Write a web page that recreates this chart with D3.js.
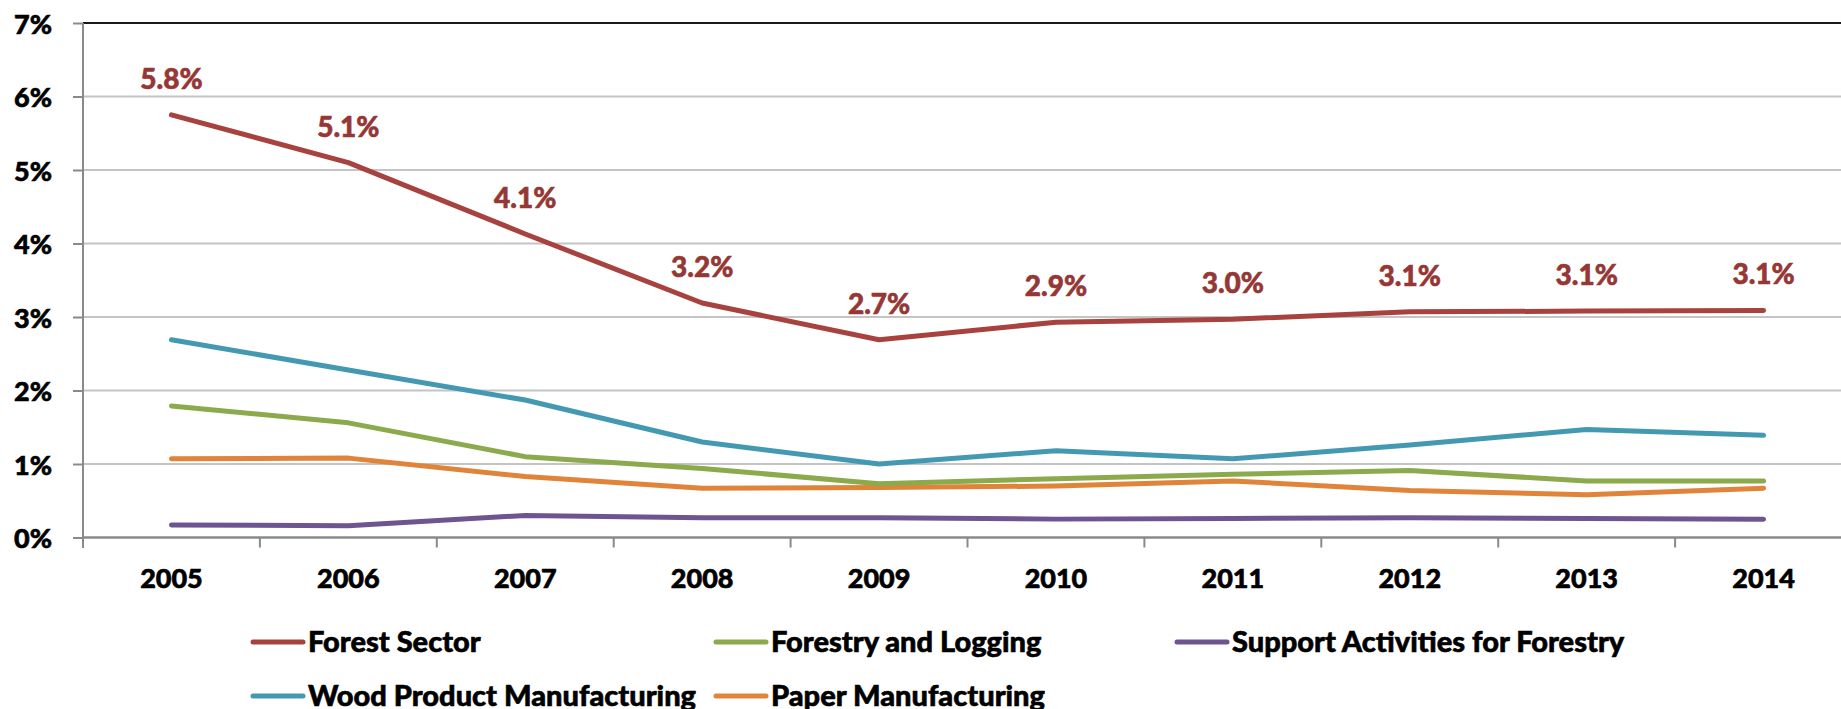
<!DOCTYPE html>
<html>
<head>
<meta charset="utf-8">
<script src="https://cdn.jsdelivr.net/npm/d3@7"></script>
<style>
  body { margin: 0; background: #fff; }
  svg { display: block; }
  text { font-family: Lato, "Open Sans", sans-serif; font-weight: 900; stroke-width: 0.6px; }
</style>
</head>
<body>
<div id="chart"></div>
<script>
// data
const years = ['2005','2006','2007','2008','2009','2010','2011','2012','2013','2014'];
const forestSector   = [5.75, 5.10, 4.13, 3.19, 2.69, 2.93, 2.97, 3.07, 3.08, 3.09];
const woodProduct    = [2.69, 2.28, 1.87, 1.30, 1.00, 1.18, 1.07, 1.26, 1.47, 1.39];
const forestryLog    = [1.79, 1.56, 1.10, 0.94, 0.73, 0.80, 0.86, 0.91, 0.77, 0.77];
const paperMfg       = [1.07, 1.08, 0.83, 0.67, 0.68, 0.70, 0.77, 0.64, 0.58, 0.67];
const supportAct     = [0.17, 0.16, 0.30, 0.27, 0.27, 0.25, 0.26, 0.27, 0.26, 0.25];
const forestLabels   = ['5.8%','5.1%','4.1%','3.2%','2.7%','2.9%','3.0%','3.1%','3.1%','3.1%'];
const yTicks = [0,1,2,3,4,5,6,7];

const series = [
  {name:'Forest Sector', values: forestSector, color:'#A8423F'},
  {name:'Forestry and Logging', values: forestryLog, color:'#8BAA4B'},
  {name:'Support Activities for Forestry', values: supportAct, color:'#6E5592'},
  {name:'Wood Product Manufacturing', values: woodProduct, color:'#4399B2'},
  {name:'Paper Manufacturing', values: paperMfg, color:'#E0843A'}
];

const W = 1841, H = 709;
const svg = d3.select('#chart').append('svg')
  .attr('width', W).attr('height', H);

const x = d3.scaleBand().domain(years).range([83, 1852]).padding(0);
const y = d3.scaleLinear().domain([0,7]).range([537.5, 23]);
const cx = d => x(d) + x.bandwidth()/2;

// gridlines
svg.append('g').selectAll('line')
  .data(yTicks.filter(t => t > 0))
  .join('line')
  .attr('x1', 83).attr('x2', W)
  .attr('y1', d => y(d)).attr('y2', d => y(d))
  .attr('stroke', d => d === 7 ? '#1a1a1a' : '#C4C4C4')
  .attr('stroke-width', 2);

// y axis
const yAxis = d3.axisLeft(y).tickValues(yTicks).tickSize(10).tickFormat(d => d + '%');
const gy = svg.append('g').attr('transform', 'translate(83,0)').call(yAxis);
gy.select('.domain').remove();
gy.selectAll('.tick line').attr('stroke', '#8a8a8a').attr('stroke-width', 2);
gy.selectAll('.tick text')
  .attr('x', -31).attr('dy', null).attr('y', 10)
  .attr('font-size', 27).attr('fill', '#000').attr('stroke', '#000')
  .style('font-family', 'Lato, sans-serif').style('font-weight', '900');
svg.append('line').attr('x1', 83).attr('x2', 83).attr('y1', 23).attr('y2', 548)
  .attr('stroke', '#8a8a8a').attr('stroke-width', 2);

// x axis
svg.append('line').attr('x1', 83).attr('x2', W).attr('y1', y(0)).attr('y2', y(0))
  .attr('stroke', '#8a8a8a').attr('stroke-width', 2.5);
svg.append('g').selectAll('line')
  .data(years)
  .join('line')
  .attr('x1', d => x(d)).attr('x2', d => x(d))
  .attr('y1', y(0)).attr('y2', y(0) + 10)
  .attr('stroke', '#8a8a8a').attr('stroke-width', 2);
svg.append('g').selectAll('text')
  .data(years)
  .join('text')
  .attr('x', d => cx(d)).attr('y', 588)
  .attr('text-anchor', 'middle').attr('font-size', 27)
  .attr('fill', '#000').attr('stroke', '#000')
  .text(d => d);

// lines, drawn bottom to top like the source
const line = d3.line().x((d, i) => cx(years[i])).y(d => y(d));
const drawOrder = [4, 2, 1, 3, 0];
svg.append('g').selectAll('path')
  .data(drawOrder.map(i => series[i]))
  .join('path')
  .attr('d', d => line(d.values))
  .attr('fill', 'none')
  .attr('stroke', d => d.color)
  .attr('stroke-width', 5)
  .attr('stroke-linecap', 'round')
  .attr('stroke-linejoin', 'round');

// forest sector labels
svg.append('g').selectAll('text')
  .data(forestSector)
  .join('text')
  .attr('x', (d, i) => cx(years[i]))
  .attr('y', d => y(d) - 26)
  .attr('text-anchor', 'middle').attr('font-size', 28)
  .attr('fill', '#953735').attr('stroke', '#953735')
  .text((d, i) => forestLabels[i]);

// legend
const legX = [250, 713, 1174];
const legY = [642, 696];
const leg = svg.append('g').selectAll('g')
  .data(series)
  .join('g')
  .attr('transform', (d, i) => `translate(${legX[i % 3]},${legY[Math.floor(i / 3)]})`);
leg.append('line')
  .attr('x1', 3).attr('x2', 53).attr('y1', 0).attr('y2', 0)
  .attr('stroke', d => d.color).attr('stroke-width', 5)
  .attr('stroke-linecap', 'round');
leg.append('text')
  .attr('x', 58).attr('y', 10)
  .attr('font-size', 29)
  .attr('fill', '#000').attr('stroke', '#000')
  .text(d => d.name);
</script>
</body>
</html>
